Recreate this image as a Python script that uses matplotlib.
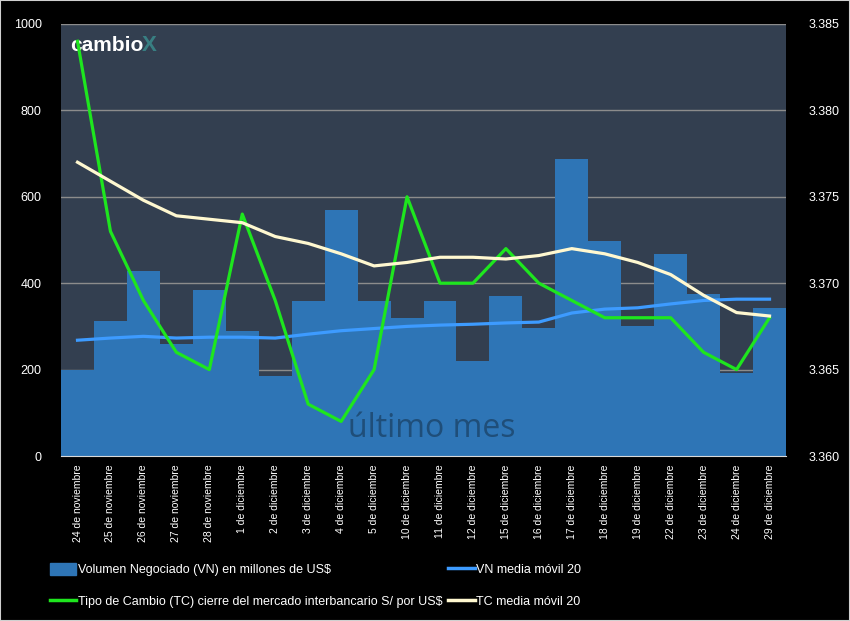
import numpy as np
import matplotlib; matplotlib.use("Agg")
import matplotlib.pyplot as plt
from matplotlib.patches import Patch, Rectangle
from matplotlib.lines import Line2D

plt.rcParams["font.family"] = ["Liberation Sans", "DejaVu Sans"]

fechas = ["24 de noviembre", "25 de noviembre", "26 de noviembre", "27 de noviembre", "28 de noviembre",
          "1 de diciembre", "2 de diciembre", "3 de diciembre", "4 de diciembre", "5 de diciembre",
          "10 de diciembre", "11 de diciembre", "12 de diciembre", "15 de diciembre", "16 de diciembre",
          "17 de diciembre", "18 de diciembre", "19 de diciembre", "22 de diciembre", "23 de diciembre",
          "24 de diciembre", "29 de diciembre"]
vn = [198, 312, 428, 260, 384, 289, 185, 359, 569, 359, 319, 359, 220, 370, 297, 687, 498, 301, 467, 375, 193, 343]
vn_ma = [268, 273, 277, 273, 275, 275, 273, 282, 290, 295, 300, 303, 305, 308, 310, 331, 340, 343, 352, 360, 363, 363]
tc = [3.384, 3.373, 3.369, 3.366, 3.365, 3.374, 3.369, 3.363, 3.362, 3.365, 3.375, 3.370, 3.370, 3.372, 3.370,
      3.369, 3.368, 3.368, 3.368, 3.366, 3.365, 3.368]
tc_ma = [3.3770, 3.3759, 3.3748, 3.3739, 3.3737, 3.3735, 3.3727, 3.3723, 3.3717, 3.3710, 3.3712, 3.3715, 3.3715,
         3.3714, 3.3716, 3.3720, 3.3717, 3.3712, 3.3705, 3.3693, 3.3683, 3.3681]

fig = plt.figure(figsize=(8.5, 6.21), dpi=100, facecolor="black")
fig.patches.append(Rectangle((0, 0), 1, 1, transform=fig.transFigure, fill=False, ec="#d0d0d0", lw=1.5))
ax = fig.add_axes([0.0718, 0.2657, 0.8529, 0.6957])
ax.set_facecolor("#333f50")
x = np.arange(len(fechas))

ax.bar(x, vn, width=1.0, color="#2e75b6", zorder=2)
ax.plot(x, vn_ma, color="#3d9bff", lw=2.3, zorder=3)
ax.set_ylim(0, 1000); ax.set_xlim(-0.5, len(fechas) - 0.5)
ax.set_yticks(range(0, 1001, 200))
ax.grid(axis="y", color="#8c8c8c", lw=1, zorder=1)
ax.set_xticks(x); ax.set_xticklabels(fechas, rotation=90, fontsize=7.5, color="white")
ax.tick_params(axis="y", colors="white", labelsize=9, length=0, pad=14)
ax.tick_params(axis="x", length=0, pad=6)
for s in ["top", "right", "left"]: ax.spines[s].set_visible(False)
ax.spines["bottom"].set_color("#d9d9d9"); ax.spines["bottom"].set_zorder(4)

ax2 = ax.twinx()
ax2.plot(x, tc, color="#1ee61e", lw=2.3, zorder=3)
ax2.plot(x, tc_ma, color="#fff8d0", lw=2.3, zorder=3)
ax2.set_ylim(3.360, 3.385)
ax2.set_yticks([3.360, 3.365, 3.370, 3.375, 3.380, 3.385])
ax2.set_yticklabels(["3.360", "3.365", "3.370", "3.375", "3.380", "3.385"])
ax2.tick_params(axis="y", colors="white", labelsize=9, length=0, pad=16)
for s in ax2.spines.values(): s.set_visible(False)

ax.text(0.512, 0.025, "último mes", transform=ax.transAxes, ha="center", va="bottom",
        fontsize=23, color="#1f4e79", zorder=5, family=["Open Sans", "DejaVu Sans"])
ax.text(0.012, 0.95, "cambio", transform=ax.transAxes, ha="left", va="center",
        fontsize=15, fontweight="bold", color="white", zorder=5)
ax.text(0.112, 0.95, "X", transform=ax.transAxes, ha="left", va="center",
        fontsize=16, fontweight="bold", color="#3a8f8f", alpha=0.8, zorder=5)

handles = [Patch(color="#2e75b6"),
           Line2D([], [], color="#1ee61e", lw=2.5),
           Line2D([], [], color="#3d9bff", lw=2.5),
           Line2D([], [], color="#fff8d0", lw=2.5)]
labels = ["Volumen Negociado (VN) en millones de US$",
          "Tipo de Cambio (TC) cierre del mercado interbancario S/ por US$",
          "VN media móvil 20", "TC media móvil 20"]
leg = fig.legend(handles, labels, ncol=2, loc="upper left", bbox_to_anchor=(0.053, 0.102),
                 frameon=False, fontsize=9, labelcolor="white", handlelength=2.1, handleheight=1.2,
                 handletextpad=0.1, columnspacing=0.5, labelspacing=1.45, borderaxespad=0)

fig.savefig("out.png", dpi=100, facecolor="black")
